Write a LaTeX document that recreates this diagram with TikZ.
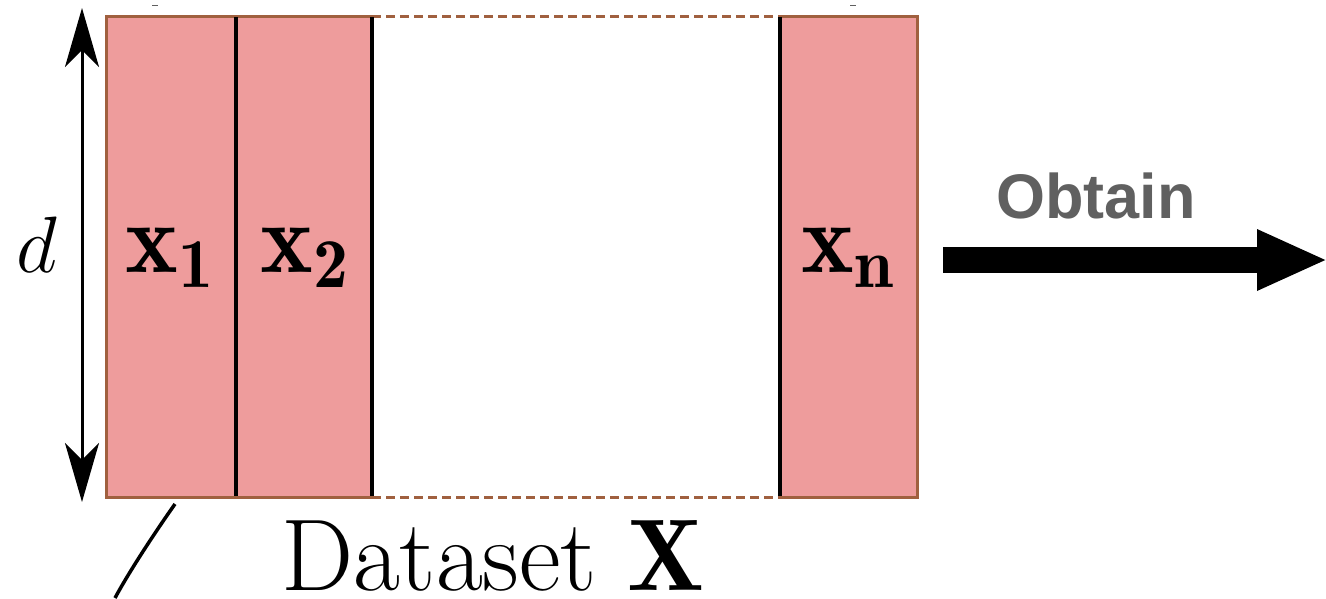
\RequirePackage{fix-cm}
\documentclass[tikz,border=0pt]{standalone}
\usepackage{fontspec}
\newfontfamily\obtainfont{Liberation Sans}
\usetikzlibrary{arrows.meta}
\definecolor{colpink}{HTML}{EE9C9C}
\definecolor{colbrown}{HTML}{A0603F}
\definecolor{colgray}{HTML}{606060}
\tikzset{
  colbox/.style={fill=colpink, draw=none},
  brownedge/.style={draw=colbrown, line width=3pt},
  divider/.style={draw=black, line width=3.5pt},
  dashedge/.style={draw=colbrown, line width=3pt, dash pattern=on 9pt off 5pt},
  biglabel/.style={inner sep=0pt, anchor=base},
}
\begin{document}
\begin{tikzpicture}[x=1pt,y=-1pt]
\useasboundingbox (0,0) rectangle (1326,598);
% columns
\fill[colbox] (106,16) rectangle (236,497);
\fill[colbox] (236,16) rectangle (372,497);
\fill[colbox] (780,16) rectangle (917,497);
% brown outline
\draw[brownedge, line join=miter] (372,16) -- (106,16) -- (106,497) -- (372,497);
\draw[brownedge, line join=miter] (780,16) -- (917,16) -- (917,497) -- (780,497);
\draw[dashedge] (372,16) -- (780,16);
\draw[dashedge] (372,497) -- (780,497);
% dividers
\draw[divider] (236,17) -- (236,496);
\draw[divider] (372,17) -- (372,496);
\draw[divider] (780,17) -- (780,496);
% labels
\node[biglabel] (x1) at (170,272) {\fontsize{100}{105}\selectfont$\mathbf{x_1}$};
\node[biglabel] (x2) at (305,272) {\fontsize{100}{105}\selectfont$\mathbf{x_2}$};
\node[biglabel] (xn) at (848,272) {\fontsize{100}{105}\selectfont$\mathbf{x_n}$};
\node[biglabel] (d) at (37,272) {\fontsize{80}{90}\selectfont$d$};
\node[biglabel] (ds) at (493,590) {\fontsize{102}{110}\selectfont Dataset $\mathbf{X}$};
\node[biglabel, text=colgray] (obt) at (1096,218) {\fontsize{63}{70}\selectfont\obtainfont\bfseries Obtain};
% double arrow
\coordinate (dtop) at (82,8);
\coordinate (dbot) at (82,502);
\draw[line width=3pt, {Stealth[length=59pt,width=34pt,inset=17pt]}-{Stealth[length=59pt,width=34pt,inset=17pt]}] (dtop) -- (dbot);
% big arrow
\coordinate (as) at (943,260);
\coordinate (ae) at (1328,260);
\draw[line width=26pt, -{Triangle[length=71pt,width=56pt]}] (as) -- (ae);
% curve
\coordinate (cs) at (175,504);
\coordinate (ce) at (115,598);
\draw[line width=3.5pt] (cs) .. controls (158,528) and (130,570) .. (ce);
% tiny marks
\draw[colgray, line width=1pt] (152,5) -- (158,5);
\draw[colgray, line width=1pt] (850,5) -- (856,5);
\end{tikzpicture}
\end{document}
